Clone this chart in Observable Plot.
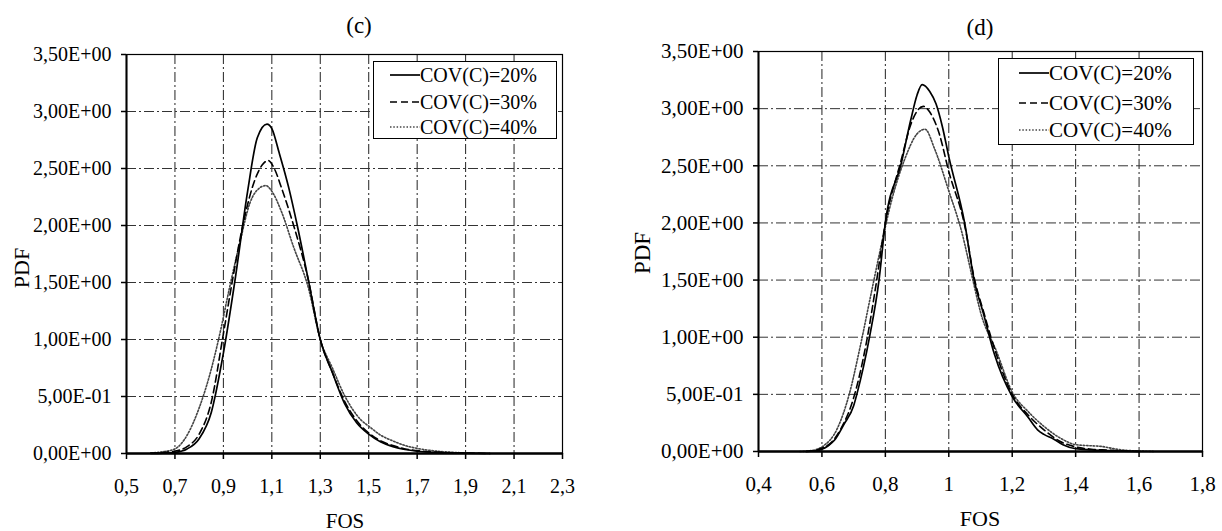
<!DOCTYPE html>
<html>
<head>
<meta charset="utf-8">
<script src="https://cdn.jsdelivr.net/npm/d3@7"></script>
<script src="https://cdn.jsdelivr.net/npm/@observablehq/plot@0.6"></script>
<style>
  html, body { margin: 0; padding: 0; background: white; }
  body { width: 1222px; height: 531px; position: relative; overflow: hidden;
         font-family: 'Liberation Serif', 'Times New Roman', serif; color: black; }
  .panel { position: absolute; top: 0; }
  .lbl { position: absolute; transform: translate(-50%, -50%); white-space: nowrap; line-height: 1; }
  .legend { position: absolute; border: 1.5px solid black; background: white; box-sizing: border-box; }
  .row { position: absolute; left: 0; display: flex; align-items: center; line-height: 1; white-space: nowrap; }
  .row svg { display: block; }
</style>
</head>
<body>
<div id="left" class="panel" style="left:0"></div>
<div id="right" class="panel" style="left:611px"></div>
<div class="lbl" style="left:359px;top:25px;font-size:23px">(c)</div>
<div class="lbl" style="left:980px;top:27px;font-size:23px">(d)</div>
<div class="lbl" style="left:22px;top:268px;font-size:22px;transform:translate(-50%,-50%) rotate(-90deg)">PDF</div>
<div class="lbl" style="left:642px;top:253px;font-size:23px;transform:translate(-50%,-50%) rotate(-90deg)">PDF</div>
<div class="lbl" style="left:345px;top:521px;font-size:21px">FOS</div>
<div class="lbl" style="left:980px;top:519px;font-size:22px">FOS</div>
<div id="legL" class="legend" style="left:373px;top:61px;width:184px;height:78px"></div>
<div id="legR" class="legend" style="left:998px;top:58px;width:196px;height:87px"></div>
<script>
// ---- tick values ----
const yTicks = [0, 0.5, 1, 1.5, 2, 2.5, 3, 3.5];
const xTicksC = [0.5, 0.7, 0.9, 1.1, 1.3, 1.5, 1.7, 1.9, 2.1, 2.3];
const xTicksD = [0.4, 0.6, 0.8, 1.0, 1.2, 1.4, 1.6, 1.8];
const seriesNames = ["COV(C)=20%", "COV(C)=30%", "COV(C)=40%"];

// ---- panel (c) ----
const c20x = [0.60,0.65,0.70,0.75,0.80,0.85,0.90,0.95,1.00,1.04,1.08,1.10,1.13,1.17,1.205,1.25,1.30,1.35,1.40,1.45,1.50,1.55,1.60,1.65,1.70,1.80,1.90,2.00];
const c20y = [0,0.003,0.01,0.04,0.13,0.36,0.88,1.55,2.30,2.77,2.89,2.85,2.64,2.33,2.00,1.53,1.00,0.71,0.44,0.27,0.17,0.10,0.06,0.035,0.02,0.008,0.003,0];
const c30x = [0.60,0.65,0.70,0.75,0.80,0.85,0.90,0.94,0.98,1.03,1.06,1.085,1.11,1.14,1.19,1.25,1.30,1.35,1.40,1.45,1.50,1.55,1.60,1.65,1.70,1.80,1.90,2.00];
const c30y = [0.002,0.008,0.02,0.06,0.17,0.45,1.05,1.55,2.00,2.40,2.53,2.57,2.50,2.33,2.00,1.53,1.00,0.71,0.46,0.29,0.18,0.11,0.07,0.04,0.025,0.01,0.004,0];
const c40x = [0.60,0.65,0.70,0.75,0.80,0.85,0.88,0.93,0.97,1.01,1.05,1.075,1.10,1.14,1.19,1.25,1.30,1.35,1.40,1.47,1.50,1.55,1.60,1.65,1.70,1.75,1.80,1.85,1.90];
const c40y = [0.005,0.015,0.04,0.16,0.40,0.74,1.00,1.50,1.87,2.20,2.33,2.35,2.30,2.12,1.81,1.46,1.00,0.75,0.51,0.29,0.24,0.16,0.11,0.07,0.045,0.028,0.017,0.01,0.005];

// ---- panel (d) ----
const d20x = [0.55,0.58,0.60,0.62,0.64,0.67,0.70,0.71,0.75,0.78,0.80,0.85,0.88,0.90,0.916,0.94,0.96,0.98,1.00,1.05,1.08,1.11,1.144,1.20,1.25,1.28,1.30,1.33,1.36,1.40,1.45,1.50,1.55,1.60];
const d20y = [0,0.005,0.02,0.05,0.10,0.24,0.40,0.50,1.00,1.50,2.00,2.52,2.90,3.12,3.21,3.15,3.04,2.84,2.58,2.00,1.50,1.20,0.85,0.48,0.30,0.19,0.15,0.11,0.06,0.025,0.015,0.008,0.003,0];
const d30x = [0.55,0.58,0.60,0.63,0.66,0.70,0.74,0.77,0.80,0.85,0.88,0.92,0.94,0.97,1.00,1.05,1.08,1.11,1.15,1.20,1.25,1.30,1.35,1.40,1.45,1.50,1.55,1.60];
const d30y = [0,0.01,0.03,0.08,0.20,0.47,0.95,1.45,2.00,2.55,2.86,3.02,2.97,2.78,2.45,1.98,1.52,1.22,0.85,0.50,0.32,0.19,0.09,0.04,0.02,0.012,0.005,0];
const d40x = [0.53,0.57,0.60,0.65,0.686,0.72,0.755,0.786,0.82,0.86,0.90,0.925,0.955,1.00,1.04,1.076,1.10,1.15,1.20,1.25,1.30,1.35,1.40,1.45,1.48,1.52,1.56,1.60,1.65];
const d40y = [0,0.01,0.04,0.21,0.50,0.91,1.38,1.79,2.20,2.55,2.78,2.82,2.65,2.28,1.93,1.50,1.22,0.88,0.52,0.35,0.22,0.12,0.06,0.05,0.045,0.025,0.01,0.005,0];

const zip = (xs, ys) => xs.map((x, i) => ({x, y: ys[i]}));

const fmtE = v => {
  const [m, e] = v.toExponential(2).split("e");
  const sign = e[0] === "-" ? "-" : "+";
  return m.replace(".", ",") + "E" + sign + String(Math.abs(+e)).padStart(2, "0");
};
const fmtX = v => String(+v.toFixed(1)).replace(".", ",");

const grid = "10,3,2,3";
function panel({xDomain, xTicks, lines, mL, mR, mT, mB, fs}) {
  return Plot.plot({
    width: 611, height: 531,
    marginLeft: mL, marginRight: mR, marginTop: mT, marginBottom: mB,
    x: {domain: xDomain, axis: null},
    y: {domain: [0, 3.5], axis: null},
    style: {fontFamily: "'Liberation Serif', 'Times New Roman', serif", fontSize: fs + "px", color: "black", background: "white", overflow: "visible"},
    marks: [
      Plot.ruleX(xTicks.slice(1, -1), {stroke: "#222", strokeWidth: 1, strokeDasharray: grid}),
      Plot.ruleY(yTicks.slice(1, -1), {stroke: "#333", strokeWidth: 1, strokeDasharray: grid}),
      Plot.frame({stroke: "black", strokeWidth: 1.2}),
      Plot.line(lines[2], {x: "x", y: "y", stroke: "#444", strokeWidth: 1.6, strokeDasharray: "1.5,1.8", curve: "monotone-x"}),
      Plot.line(lines[1], {x: "x", y: "y", stroke: "black", strokeWidth: 1.6, strokeDasharray: "7,4", curve: "monotone-x"}),
      Plot.line(lines[0], {x: "x", y: "y", stroke: "black", strokeWidth: 1.7, curve: "monotone-x"}),
      Plot.ruleX([xDomain[0]], {stroke: "black", strokeWidth: 2}),
      Plot.ruleY([0], {stroke: "black", strokeWidth: 2.5}),
      Plot.axisX({ticks: xTicks, tickFormat: fmtX, tickSize: 6, tickPadding: 19, stroke: "black", strokeWidth: 1.5, label: null, fill: "black"}),
      Plot.axisY({ticks: yTicks, tickFormat: fmtE, tickSize: 5, tickPadding: 10, stroke: "black", strokeWidth: 1.5, label: null, fill: "black"})
    ]
  });
}

document.getElementById("left").append(panel({
  xDomain: [0.5, 2.3], xTicks: xTicksC,
  lines: [zip(c20x, c20y), zip(c30x, c30y), zip(c40x, c40y)],
  mL: 126, mR: 49, mT: 54, mB: 78, fs: 20
}));
document.getElementById("right").append(panel({
  xDomain: [0.4, 1.8], xTicks: xTicksD,
  lines: [zip(d20x, d20y), zip(d30x, d30y), zip(d40x, d40y)],
  mL: 147, mR: 20, mT: 51, mB: 80, fs: 21
}));

// ---- legends ----
const dashes = [null, "7,4", "1.5,1.8"];
const colors = ["black", "black", "#444"];
function legend(id, rows, sampleX, sampleW, fs) {
  const el = document.getElementById(id);
  seriesNames.forEach((name, i) => {
    const r = document.createElement("div");
    r.className = "row";
    r.style.top = (rows[i] - 11) + "px";
    r.style.height = "22px";
    r.style.left = sampleX + "px";
    r.style.fontSize = fs + "px";
    r.innerHTML = `<svg width="${sampleW}" height="22"><line x1="0" x2="${sampleW}" y1="11" y2="11" stroke="${colors[i]}" stroke-width="1.7" ${dashes[i] ? `stroke-dasharray="${dashes[i]}"` : ""}/></svg><span>${name}</span>`;
    el.append(r);
  });
}
legend("legL", [13, 40, 65], 16, 30, 20);
legend("legR", [14, 44, 71], 20, 30, 21);
</script>
</body>
</html>
